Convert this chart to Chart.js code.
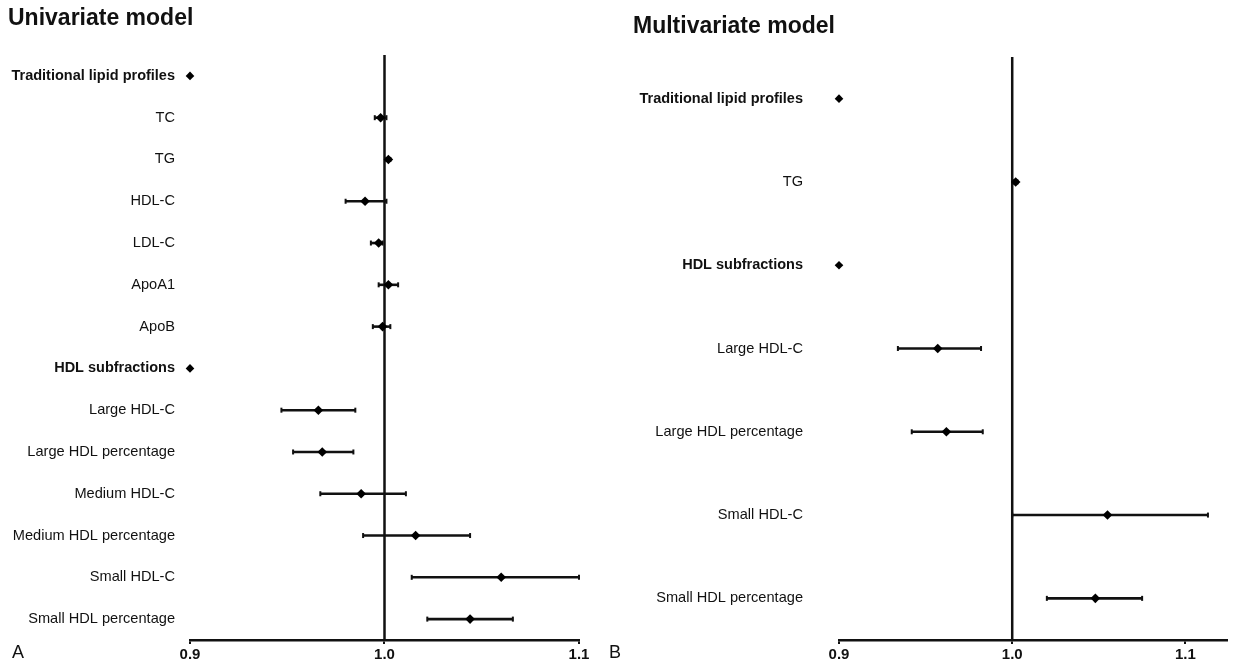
<!DOCTYPE html>
<html><head><meta charset="utf-8">
<script src="https://cdn.jsdelivr.net/npm/chart.js@4.4.1/dist/chart.umd.min.js"></script>
<style>
html,body{margin:0;padding:0;background:#fff;}
body{width:1233px;height:665px;overflow:hidden;position:relative;font-family:"Liberation Sans",Arial,sans-serif;color:#111;}
.t{position:absolute;font-weight:bold;font-size:23px;line-height:1;white-space:nowrap;}
.p{position:absolute;font-size:18px;line-height:1;}
#wa{position:absolute;left:0;top:0;width:600px;height:665px;}
#wb{position:absolute;left:620px;top:0;width:613px;height:665px;}
</style></head><body>
<div id="wa"><canvas id="ca"></canvas></div>
<div id="wb"><canvas id="cb"></canvas></div>
<div class="t" style="left:8px;top:5.5px">Univariate model</div>
<div class="t" style="left:633px;top:14px">Multivariate model</div>
<div class="p" style="left:12px;top:643px">A</div>
<div class="p" style="left:609px;top:643px">B</div>
<script>
// ---- Panel A: univariate model ----
const catsA = ["Traditional lipid profiles","TC","TG","HDL-C","LDL-C","ApoA1","ApoB",
  "HDL subfractions","Large HDL-C","Large HDL percentage","Medium HDL-C",
  "Medium HDL percentage","Small HDL-C","Small HDL percentage"];
const headerA = [true,false,false,false,false,false,false,true,false,false,false,false,false,false];
const estA = [null,0.998,1.002,0.990,0.997,1.002,0.999,null,0.966,0.968,0.988,1.016,1.060,1.044];
const loA  = [null,0.995,1.001,0.980,0.993,0.997,0.994,null,0.947,0.953,0.967,0.989,1.014,1.022];
const hiA  = [null,1.001,1.003,1.001,0.999,1.007,1.003,null,0.985,0.984,1.011,1.044,1.100,1.066];
const ticksA = [0.9,1.0,1.1];

// ---- Panel B: multivariate model ----
const catsB = ["Traditional lipid profiles","TG","HDL subfractions","Large HDL-C",
  "Large HDL percentage","Small HDL-C","Small HDL percentage"];
const headerB = [true,false,true,false,false,false,false];
const estB = [null,1.002,null,0.957,0.962,1.055,1.048];
const loB  = [null,1.001,null,0.934,0.942,1.000,1.020];
const hiB  = [null,1.003,null,0.982,0.983,1.113,1.075];
const ticksB = [0.9,1.0,1.1];

const refValue = 1.0;
const headerMarkerValue = 0.9;

function makeChart(id, cats, header, est, lo, hi, ticks, xMin, xMax, yWidth, labelPad, regSize, padRight, padTop) {
  const datasets = [];
  datasets.push({
    data: [{x: refValue, y: -0.5}, {x: refValue, y: cats.length - 0.5}],
    showLine: true, borderColor: '#111', borderWidth: 2.5, pointRadius: 0, clip: false, order: 5
  });
  cats.forEach((c, i) => {
    if (lo[i] === null) return;
    datasets.push({
      data: [{x: lo[i], y: i}, {x: hi[i], y: i}],
      showLine: true, borderColor: '#111', borderWidth: 2.6,
      pointStyle: 'line', rotation: 90, pointRadius: 2.5, pointBorderWidth: 2,
      pointBorderColor: '#111', clip: false, order: 3
    });
  });
  datasets.push({
    data: cats.map((c, i) => est[i] === null ? null : {x: est[i], y: i}).filter(d => d),
    pointStyle: 'rectRot', pointRadius: 4.8, backgroundColor: '#000', borderColor: '#000',
    borderWidth: 0, clip: false, order: 1
  });
  datasets.push({
    data: cats.map((c, i) => header[i] ? {x: headerMarkerValue, y: i} : null).filter(d => d),
    pointStyle: 'rectRot', pointRadius: 4.3, backgroundColor: '#000', borderColor: '#000',
    borderWidth: 0, clip: false, order: 1
  });

  const fam = '"Liberation Sans", Arial, sans-serif';
  return new Chart(document.getElementById(id), {
    type: 'scatter',
    data: { datasets },
    options: {
      responsive: true, maintainAspectRatio: false, animation: false,
      layout: { padding: { top: padTop, right: padRight, left: 0, bottom: 0 } },
      plugins: { legend: { display: false }, tooltip: { enabled: false } },
      scales: {
        x: {
          type: 'linear', min: xMin, max: xMax,
          afterBuildTicks: s => { s.ticks = ticks.map(v => ({ value: v })); },
          afterFit: s => { s.height = 25; s.paddingLeft = 0; s.paddingRight = 0; },
          ticks: { color: '#111', padding: 2, font: { family: fam, size: 15, weight: 'bold' },
                   callback: v => Number(v).toFixed(1), maxRotation: 0 },
          grid: { drawOnChartArea: false, drawTicks: true, tickLength: 4, color: '#111', lineWidth: 2 },
          border: { display: true, color: '#111', width: 2.5 }
        },
        y: {
          type: 'linear', reverse: true, min: -0.5, max: cats.length - 0.5,
          afterBuildTicks: s => { s.ticks = cats.map((c, i) => ({ value: i })); },
          afterFit: s => { s.width = yWidth; s.paddingTop = 0; s.paddingBottom = 0; },
          ticks: {
            color: '#111', padding: labelPad, autoSkip: false,
            callback: v => cats[v],
            font: ctx => {
              const i = ctx.tick ? ctx.tick.value : 0;
              return header[i]
                ? { family: fam, size: 14.5, weight: 'bold' }
                : { family: fam, size: regSize, weight: 'normal' };
            }
          },
          grid: { display: false },
          border: { display: false }
        }
      }
    }
  });
}

makeChart('ca', catsA, headerA, estA, loA, hiA, ticksA, 0.9, 1.1, 190, 7, 14.6, 21, 55);
makeChart('cb', catsB, headerB, estB, loB, hiB, ticksB, 0.9, 1.124, 219, 28, 14.6, 0, 57);
</script>
</body></html>
